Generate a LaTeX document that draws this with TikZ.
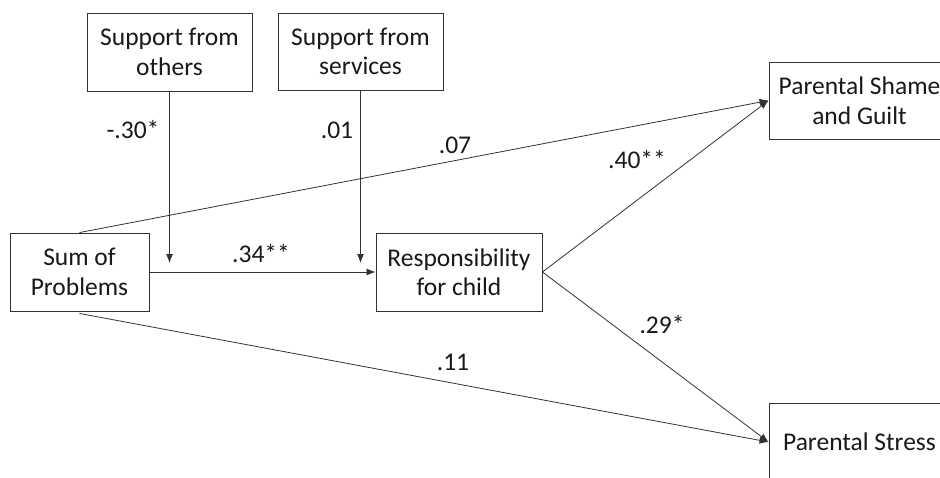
\documentclass[tikz,border=0pt]{standalone}
\usepackage{fontspec}
\setmainfont{Carlito}
\usetikzlibrary{arrows.meta}
\begin{document}
\begin{tikzpicture}[x=1pt,y=-1pt,
  box/.style={draw=black!80,line width=0.9pt,align=center,inner sep=0pt,
    font=\fontsize{25.5}{29.5}\selectfont,text=black!90},
  arr/.style={draw=black!80,line width=0.8pt,-{Latex[length=9pt,width=7pt]}},
  lab/.style={font=\fontsize{25.5}{29.5}\selectfont,inner sep=0pt,text=black!90}]
\useasboundingbox (0,0) rectangle (940,477);
\clip (0,0) rectangle (940,477);
\fill[white] (0,0) rectangle (940,477);
\node[box,minimum width=165pt,minimum height=78pt] (others) at (169.5,52) {Support from\\others};
\node[box,minimum width=165pt,minimum height=77pt] (services) at (360.5,51.5) {Support from\\services};
\node[box,minimum width=139pt,minimum height=78pt] (sum) at (79.5,272) {Sum of\\Problems};
\node[box,minimum width=166pt,minimum height=78pt] (resp) at (459,272) {Responsibility\\for child};
\node[box,minimum width=181pt,minimum height=77pt] (shame) at (859.5,100.5) {Parental Shame\\and Guilt};
\node[box,minimum width=181pt,minimum height=78pt] (stress) at (859.5,442) {Parental Stress};
\draw[arr] (sum.east) -- (resp.west);
\draw[arr] (others.south) -- ([yshift=9pt]others.south |- sum.east);
\draw[arr] (services.south) -- ([yshift=9pt]services.south |- sum.east);
\draw[arr] (sum.north) -- (shame.west);
\draw[arr] (resp.east) -- (shame.west);
\draw[arr] (resp.east) -- (stress.west);
\draw[arr] ([yshift=-2pt]sum.south) -- (stress.west);
\node[lab] (l1) at (133,130) {-.30*};
\node[lab] (l2) at (337,130) {.01};
\node[lab] (l3) at (455,145) {.07};
\node[lab] (l4) at (637,160) {.40**};
\node[lab] (l5) at (261,254) {.34**};
\node[lab] (l6) at (662,325) {.29*};
\node[lab] (l7) at (453,362) {.11};
\end{tikzpicture}
\end{document}
